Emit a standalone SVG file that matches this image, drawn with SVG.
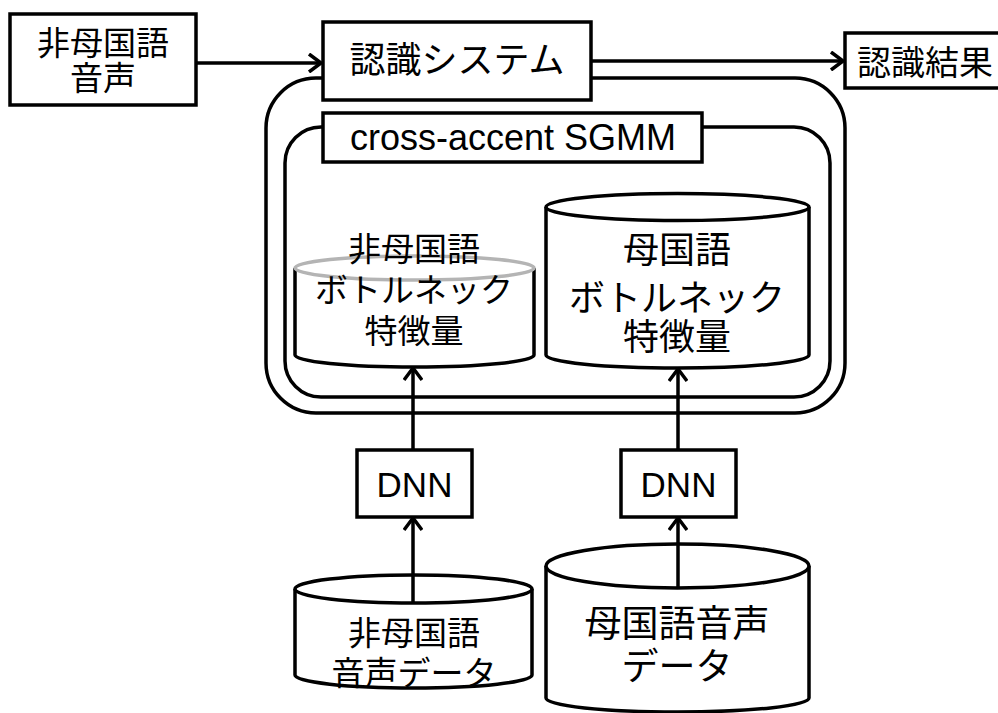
<svg xmlns="http://www.w3.org/2000/svg" width="998" height="713" viewBox="0 0 998 713">
<defs>
<style>
.s{fill:#fff;stroke:#000;stroke-width:3.5}
.n{fill:none;stroke:#000;stroke-width:3.5}
.t{font-family:"Liberation Sans","Noto Sans CJK JP",sans-serif;text-anchor:middle;fill:#000}
</style>
<marker id="a" viewBox="0 0 20 20" refX="18" refY="10" markerWidth="20" markerHeight="20" markerUnits="userSpaceOnUse" orient="auto">
<path d="M6,1 L18,10 L6,19" fill="none" stroke="#000" stroke-width="3.5"/>
</marker>
</defs>
<g id="system">
<rect x="266" y="78" width="579" height="335" rx="50" class="n"/>
</g>
<g id="sgmm">
<rect x="285" y="127" width="545" height="270" rx="36" class="n"/>
</g>
<g id="input">
<rect x="10" y="14" width="186" height="91" class="s"/>
<text class="t" x="103" y="55" font-size="33">非母国語</text>
<text class="t" x="103" y="90" font-size="33">音声</text>
</g>
<g id="recog">
<rect x="323" y="22" width="268" height="78" class="s"/>
<text class="t" x="457" y="73" font-size="36">認識システム</text>
</g>
<g id="result">
<rect x="845" y="33" width="160" height="55" class="s"/>
<text class="t" x="925" y="75" font-size="34">認識結果</text>
</g>
<g id="sgmm-label">
<rect x="323" y="113" width="379" height="49" class="s"/>
<text class="t" x="513" y="150" font-size="36">cross-accent SGMM</text>
</g>
<g id="nonnative-bn">
<path d="M295,268 V355 A119.5,12 0 0 0 534,355 V268" class="s"/>
<ellipse cx="414.5" cy="268" rx="119.5" ry="12" fill="none" stroke="#b4b4b4" stroke-width="3.5"/>
<text class="t" x="414" y="261" font-size="33">非母国語</text>
<text class="t" x="414" y="302" font-size="33">ボトルネック</text>
<text class="t" x="414" y="343" font-size="33">特徴量</text>
</g>
<g id="native-bn">
<path d="M546,207 V355 A131.5,13 0 0 0 809,355 V207" class="s"/>
<ellipse cx="677.5" cy="207" rx="131.5" ry="13.5" class="s"/>
<text class="t" x="677" y="263" font-size="36">母国語</text>
<text class="t" x="677" y="311" font-size="36">ボトルネック</text>
<text class="t" x="677" y="350" font-size="36">特徴量</text>
</g>
<g id="dnn1">
<rect x="357" y="450" width="115" height="67" class="s"/>
<text class="t" x="414.5" y="497" font-size="35">DNN</text>
</g>
<g id="dnn2">
<rect x="621" y="450" width="115" height="67" class="s"/>
<text class="t" x="678.5" y="497" font-size="35">DNN</text>
</g>
<g id="nonnative-data">
<path d="M295,589 V675 A118.5,13 0 0 0 532,675 V589" class="s"/>
<ellipse cx="413.5" cy="589" rx="118.5" ry="14" class="s"/>
<text class="t" x="414" y="645" font-size="33">非母国語</text>
<text class="t" x="414" y="685" font-size="33">音声データ</text>
</g>
<g id="native-data">
<path d="M546,566 V698 A131.5,14 0 0 0 809,698 V566" class="s"/>
<ellipse cx="677.5" cy="566" rx="131.5" ry="22" class="s"/>
<text class="t" x="677" y="637" font-size="37">母国語音声</text>
<text class="t" x="677" y="680" font-size="37">データ</text>
</g>
<g id="connectors">
<line x1="196" y1="63" x2="321" y2="63" class="n" marker-end="url(#a)"/>
<line x1="591" y1="61" x2="843" y2="61" class="n" marker-end="url(#a)"/>
<line x1="413" y1="450" x2="413" y2="368" class="n" marker-end="url(#a)"/>
<line x1="678" y1="450" x2="678" y2="369" class="n" marker-end="url(#a)"/>
<line x1="413" y1="603" x2="413" y2="518" class="n" marker-end="url(#a)"/>
<line x1="678" y1="588" x2="678" y2="518" class="n" marker-end="url(#a)"/>
</g>
</svg>
